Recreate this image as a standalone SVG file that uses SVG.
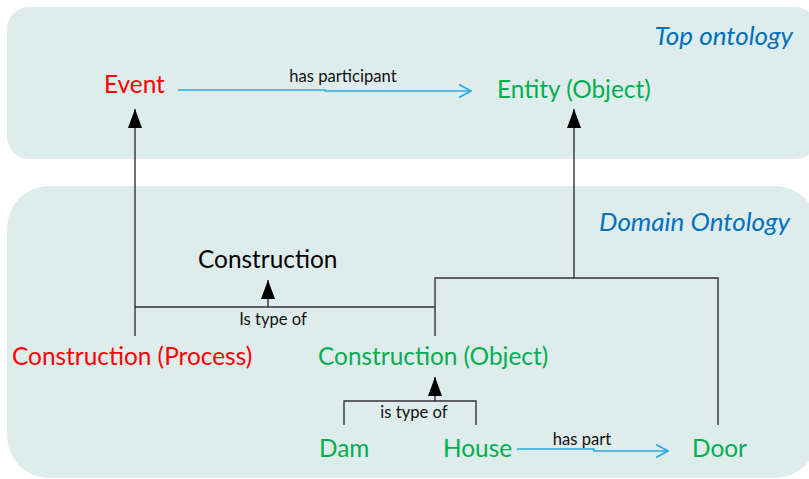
<svg xmlns="http://www.w3.org/2000/svg" width="809" height="479" viewBox="0 0 809 479">
<style>
.panel{fill:#dfecec;stroke:none}
.lbl{font-family:Lato,"Open Sans","Liberation Sans",sans-serif;font-size:24.4px}
.red{fill:#ff0000}
.green{fill:#00b050}
.blk{fill:#000}
.small{font-family:Lato,"Open Sans","Liberation Sans",sans-serif;font-size:16.6px;fill:#111}
.title{font-family:Lato,"Open Sans","Liberation Sans",sans-serif;font-size:26px;font-style:italic;fill:#0070c0}
.ln{fill:none;stroke:#333;stroke-width:1.4}
.bl{fill:none;stroke:#29abe2;stroke-width:1.6}
</style>
<defs>
<marker id="tri" markerUnits="userSpaceOnUse" markerWidth="20" markerHeight="14" viewBox="0 0 20 14" refX="19" refY="7" orient="auto">
<path d="M19 7 L0 0 L0 14 Z" fill="#000"/>
</marker>
<marker id="open" markerUnits="userSpaceOnUse" markerWidth="14" markerHeight="16" viewBox="0 0 14 16" refX="13" refY="8" orient="auto">
<path d="M1 1.5 L13 8 L1 14.5" fill="none" stroke="#29abe2" stroke-width="1.8"/>
</marker>
</defs>
<g id="top-panel">
<rect class="panel" x="7" y="7" width="810" height="152" rx="22" ry="22"/>
<text class="title" x="793" y="45" text-anchor="end">Top ontology</text>
</g>
<g id="domain-panel">
<rect class="panel" x="7" y="186" width="810" height="292" rx="42" ry="42"/>
<text class="title" x="790" y="231" text-anchor="end">Domain Ontology</text>
</g>
<g id="connectors">
<path class="bl" d="M178 90 H325 V91 H471" marker-end="url(#open)"/>
<text class="small" x="343" y="82" text-anchor="middle">has participant</text>
<path class="ln" d="M135 336 V109" marker-end="url(#tri)"/>
<path class="ln" d="M574 278 V109" marker-end="url(#tri)"/>
<path class="ln" d="M135 307 H435"/>
<path class="ln" d="M268 307 V280" marker-end="url(#tri)"/>
<text class="small" x="273" y="325" text-anchor="middle">Is type of</text>
<path class="ln" d="M435 336 V278 H718 V425"/>
<path class="ln" d="M344 425 V401 H476 V425"/>
<path class="ln" d="M435 401 V377" marker-end="url(#tri)"/>
<text class="small" x="414" y="418" text-anchor="middle">is type of</text>
<path class="bl" d="M517 449 H594 V451 H668" marker-end="url(#open)"/>
<text class="small" x="582" y="445" text-anchor="middle">has part</text>
</g>
<g id="node-event"><text class="lbl red" x="104" y="93">Event</text></g>
<g id="node-entity"><text class="lbl green" x="497" y="98">Entity (Object)</text></g>
<g id="node-construction"><text class="lbl blk" x="198" y="268">Construction</text></g>
<g id="node-construction-process"><text class="lbl red" x="12" y="365">Construction (Process)</text></g>
<g id="node-construction-object"><text class="lbl green" x="318" y="365">Construction (Object)</text></g>
<g id="node-dam"><text class="lbl green" x="319" y="457">Dam</text></g>
<g id="node-house"><text class="lbl green" x="443" y="457">House</text></g>
<g id="node-door"><text class="lbl green" x="692" y="457">Door</text></g>
</svg>
